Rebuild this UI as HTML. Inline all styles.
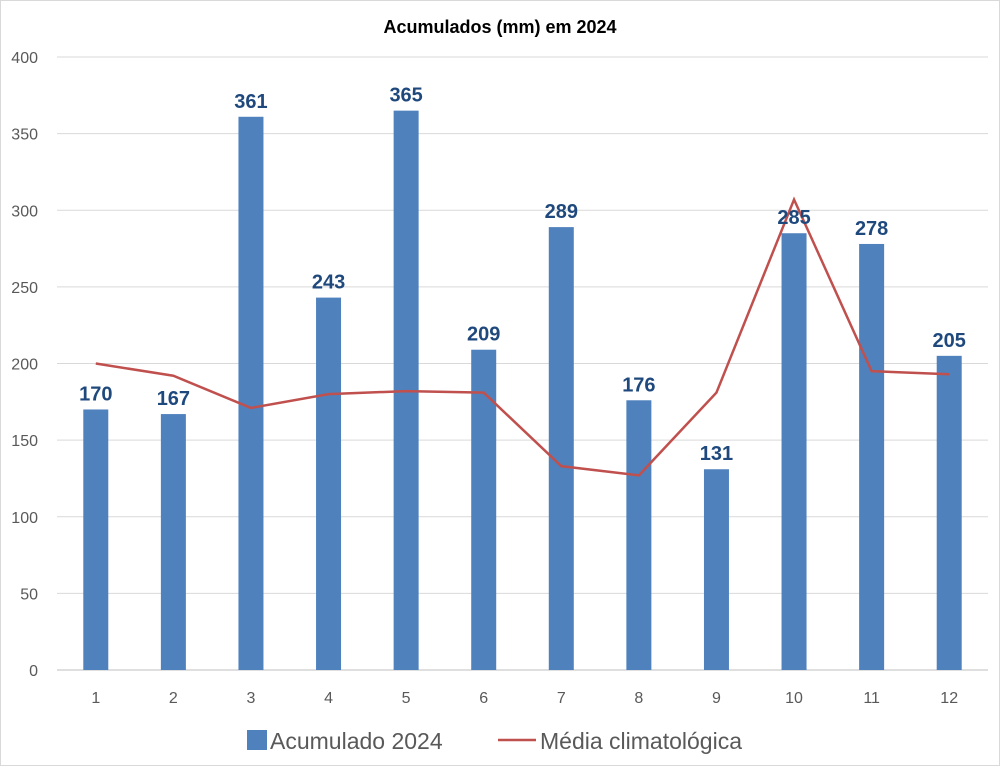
<!DOCTYPE html>
<html><head><meta charset="utf-8"><style>
body{margin:0;background:#fff}
svg{display:block;font-family:"Liberation Sans",Arial,sans-serif}
</style></head><body>
<svg id="c" width="1000" height="766" viewBox="0 0 1000 766">
<rect x="0.5" y="0.5" width="999" height="765" fill="#fff" stroke="#d9d9d9"/>
<text x="500" y="33" text-anchor="middle" font-size="18" font-weight="bold" fill="#000">Acumulados (mm) em 2024</text>
<g id="grid"></g><g id="bars"></g><g id="line"></g><g id="labels"></g>
<g>
<rect x="247" y="730" width="20" height="20" fill="#4f81bd"/>
<text x="270" y="749" font-size="23" fill="#595959">Acumulado 2024</text>
<line x1="498" y1="740" x2="536" y2="740" stroke="#c0504d" stroke-width="2.5"/>
<text x="540" y="749" font-size="23" fill="#595959">Média climatológica</text>
</g>
</svg>
<script>
const categories=["1","2","3","4","5","6","7","8","9","10","11","12"];
const accumulated=[170,167,361,243,365,209,289,176,131,285,278,205];
const climatology=[200,192,171,180,182,181,133,127,181,307,195,193];
const yTicks=[0,50,100,150,200,250,300,350,400];
const NS="http://www.w3.org/2000/svg";
const x0=57,x1=988,yb=670,yt=57,ymax=400;
const step=(x1-x0)/categories.length;
const xc=i=>x0+step*(i+0.5);
const y=v=>yb-(v/ymax)*(yb-yt);
function mk(tag,attrs,parent){const e=document.createElementNS(NS,tag);for(const k in attrs)e.setAttribute(k,attrs[k]);document.getElementById(parent).appendChild(e);return e;}
yTicks.forEach(t=>{
  const l=mk("line",{x1:x0,x2:x1,y1:y(t),y2:y(t),stroke:t===0?"#bfbfbf":"#d9d9d9","stroke-width":1},"grid");
  
  
  const tx=mk("text",{x:38,y:y(t)+6,"text-anchor":"end","font-size":16,fill:"#595959"},"grid");
  tx.textContent=t;
  
  
});
categories.forEach((c,i)=>{
  const tx=mk("text",{x:xc(i),y:y(0)+33,"text-anchor":"middle","font-size":16,fill:"#595959"},"grid");
  tx.textContent=c;
  
  
  const b=mk("rect",{x:xc(i)-12.5,y:y(accumulated[i]),width:25,height:y(0)-y(accumulated[i]),fill:"#4f81bd"},"bars");
  
  
  const lb=mk("text",{x:xc(i),y:y(accumulated[i])-9,"text-anchor":"middle","font-size":20,"font-weight":"bold",fill:"#1f497d"},"labels");
  lb.textContent=accumulated[i];
  
  
});
const pl=mk("polyline",{points:climatology.map((v,i)=>xc(i)+","+y(v)).join(" "),fill:"none",stroke:"#c0504d","stroke-width":2.5},"line");


</script>
</body></html>
